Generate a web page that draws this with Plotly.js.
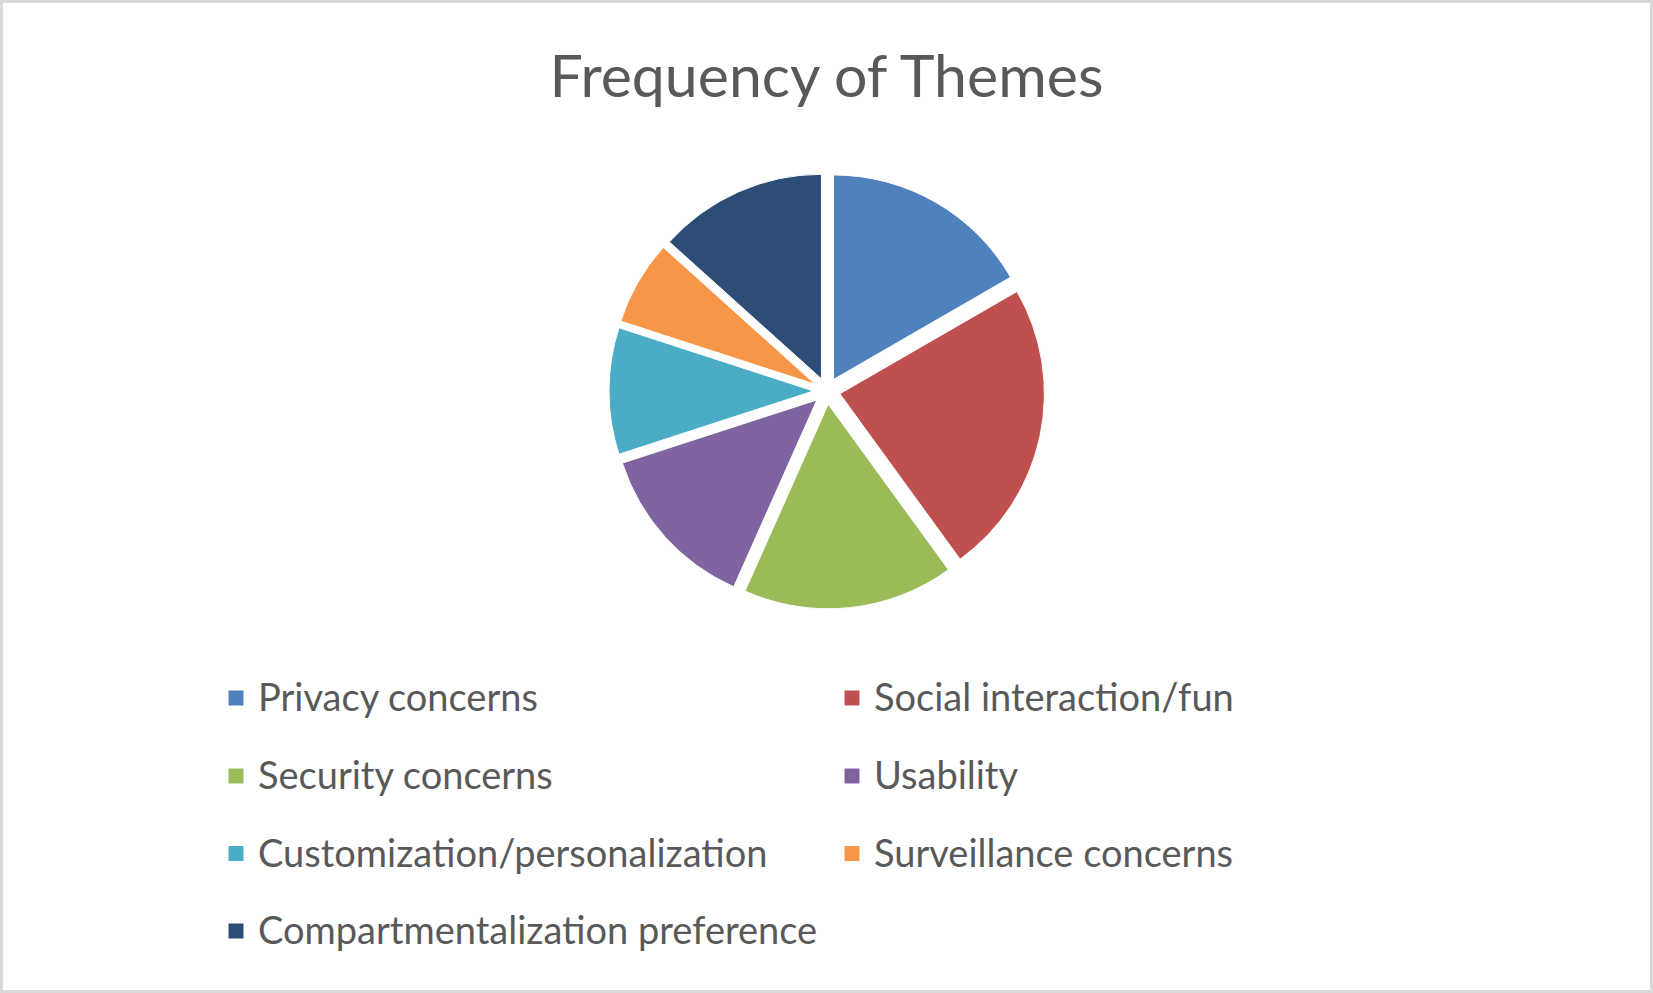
<!DOCTYPE html>
<html>
<head>
<meta charset="utf-8">
<script src="https://cdn.plot.ly/plotly-3.0.1.min.js"></script>
<style>
html,body{margin:0;padding:0;background:#ffffff;}
#chart{width:1653px;height:993px;}
</style>
</head>
<body>
<div id="chart"></div>
<script>
// ---- data ----
const chartTitle = "Frequency of Themes";
const categories = [
  "Privacy concerns",
  "Social interaction/fun",
  "Security concerns",
  "Usability",
  "Customization/personalization",
  "Surveillance concerns",
  "Compartmentalization preference"
];
const counts = [5, 7, 5, 4, 3, 2, 4];
const sliceColors = ["#4F81BD", "#C0504D", "#9BBB59", "#8064A2", "#4BACC6", "#F79646", "#2C4D75"];

// ---- layout constants ----
const W = 1653, H = 993;
const textColor = "#595959";
const fontFamily = "Lato, 'Open Sans', sans-serif";
const legendCols = [{sw: 236, tx: 256}, {sw: 852, tx: 872}];
const legendRows = [698, 776, 853.5, 931];
const swHalf = 7.5;

const annotations = [];
const shapes = [{
  type: "rect", xref: "paper", yref: "paper", x0: 0, x1: 1, y0: 0, y1: 1,
  line: {color: "#D9D9D9", width: 6}, fillcolor: "rgba(0,0,0,0)", layer: "above"
}];
categories.forEach((name, i) => {
  const col = legendCols[i % 2];
  const rowY = legendRows[Math.floor(i / 2)];
  shapes.push({
    type: "rect", xref: "paper", yref: "paper",
    x0: (col.sw - swHalf) / W, x1: (col.sw + swHalf) / W,
    y0: 1 - (rowY + swHalf) / H, y1: 1 - (rowY - swHalf) / H,
    line: {width: 0}, fillcolor: sliceColors[i]
  });
  annotations.push({
    text: name, xref: "paper", yref: "paper",
    x: col.tx / W, y: 1 - (rowY - 2) / H,
    xanchor: "left", yanchor: "middle", showarrow: false,
    font: {family: fontFamily, size: 38, color: textColor}
  });
});

const trace = {
  type: "pie",
  labels: categories,
  values: counts,
  sort: false,
  direction: "clockwise",
  rotation: 0,
  pull: counts.map(() => 0.065),
  marker: {colors: sliceColors, line: {color: "#ffffff", width: 1}},
  textinfo: "none",
  hoverinfo: "label+value+percent",
  showlegend: false,
  domain: {x: [0.3684, 0.6320], y: [0.3868, 0.8257]}
};

const layout = {
  width: W, height: H,
  margin: {l: 0, r: 0, t: 0, b: 0},
  paper_bgcolor: "#ffffff",
  plot_bgcolor: "#ffffff",
  showlegend: false,
  title: {
    text: chartTitle,
    x: 826.5 / W, xanchor: "center", xref: "paper",
    y: 1 - 76 / H, yanchor: "middle", yref: "container",
    font: {family: fontFamily, size: 59, color: textColor}
  },
  annotations: annotations,
  shapes: shapes
};

Plotly.newPlot("chart", [trace], layout, {displayModeBar: false, staticPlot: true});
</script>
</body>
</html>
